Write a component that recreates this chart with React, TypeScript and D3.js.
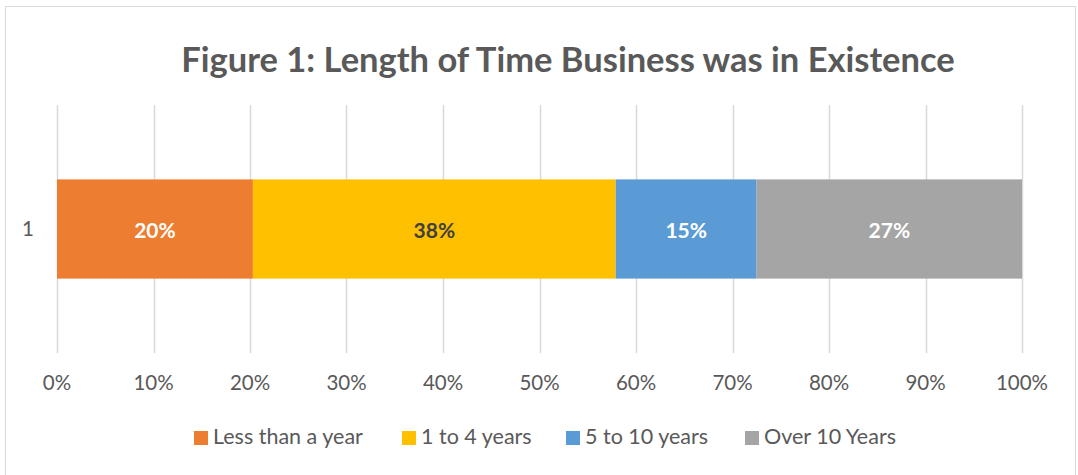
import React from "react";
import * as d3 from "d3";

const categories = ["1"];
const seriesNames = ["Less than a year", "1 to 4 years", "5 to 10 years", "Over 10 Years"];
const seriesValues = [0.203, 0.376, 0.146, 0.275];
const seriesLabels = ["20%", "38%", "15%", "27%"];
const seriesColors = ["#ED7D31", "#FFC000", "#5B9BD5", "#A5A5A5"];
const labelColors = ["#FFFFFF", "#404040", "#FFFFFF", "#FFFFFF"];
const tickValues = [0, 0.1, 0.2, 0.3, 0.4, 0.5, 0.6, 0.7, 0.8, 0.9, 1.0];
const title = "Figure 1: Length of Time Business was in Existence";

const W = 1078;
const H = 475;
const FONT = "Lato, 'Open Sans', sans-serif";

export default function App() {
  const x = d3.scaleLinear().domain([0, 1]).range([57, 1022]);
  const y = d3.scaleBand().domain(categories).range([105, 353]).paddingInner(0.6).paddingOuter(0.3);

  const stackData = [Object.fromEntries(seriesNames.map((n, i) => [n, seriesValues[i]]))];
  const stacked = d3.stack<any>().keys(seriesNames)(stackData as any);

  const legendX = [194, 402, 566, 745];

  return (
    <svg width={W} height={H} style={{ position: "absolute", left: 0, top: 0, display: "block" }}>
      <rect x={0} y={0} width={W} height={H} fill="#fff" />
      <rect x={5.5} y={6.5} width={1070} height={480} fill="#fff" stroke="#D9D9D9" strokeWidth={1} />
      <text x={568} y={63.5} textAnchor="middle" dominantBaseline="middle" fontFamily={FONT} fontWeight="bold" fontSize={34.5} fill="#595959">
        {title}
      </text>
      {tickValues.map((t) => (
        <line key={t} x1={Math.round(x(t)) + 0.5} x2={Math.round(x(t)) + 0.5} y1={105} y2={353} stroke="#D9D9D9" strokeWidth={1.5} />
      ))}
      {tickValues.map((t) => (
        <text key={"l" + t} x={x(t)} y={385} textAnchor="middle" dominantBaseline="middle" fontFamily={FONT} fontSize={20.5} fill="#595959">
          {d3.format(".0%")(t)}
        </text>
      ))}
      {categories.map((c) => (
        <text key={c} x={28} y={(y(c) as number) + y.bandwidth() / 2 + 2} textAnchor="middle" dominantBaseline="middle" fontFamily={FONT} fontSize={20.5} fill="#595959">
          {c}
        </text>
      ))}
      {stacked.map((s, i) =>
        s.map((d, j) => {
          const cy = y(categories[j]) as number;
          return (
            <g key={i + "-" + j}>
              <rect x={x(d[0])} y={cy} width={x(d[1]) - x(d[0])} height={y.bandwidth()} fill={seriesColors[i]} />
              <text x={(x(d[0]) + x(d[1])) / 2} y={cy + y.bandwidth() / 2 + 3.5} textAnchor="middle" dominantBaseline="middle" fontFamily={FONT} fontWeight="bold" fontSize={21} fill={labelColors[i]}>
                {seriesLabels[i]}
              </text>
            </g>
          );
        })
      )}
      {seriesNames.map((n, i) => (
        <g key={n}>
          <rect x={legendX[i]} y={431} width={14} height={14} fill={seriesColors[i]} />
          <text x={legendX[i] + 19} y={439} dominantBaseline="middle" fontFamily={FONT} fontSize={21.5} fill="#595959">
            {n}
          </text>
        </g>
      ))}
    </svg>
  );
}
